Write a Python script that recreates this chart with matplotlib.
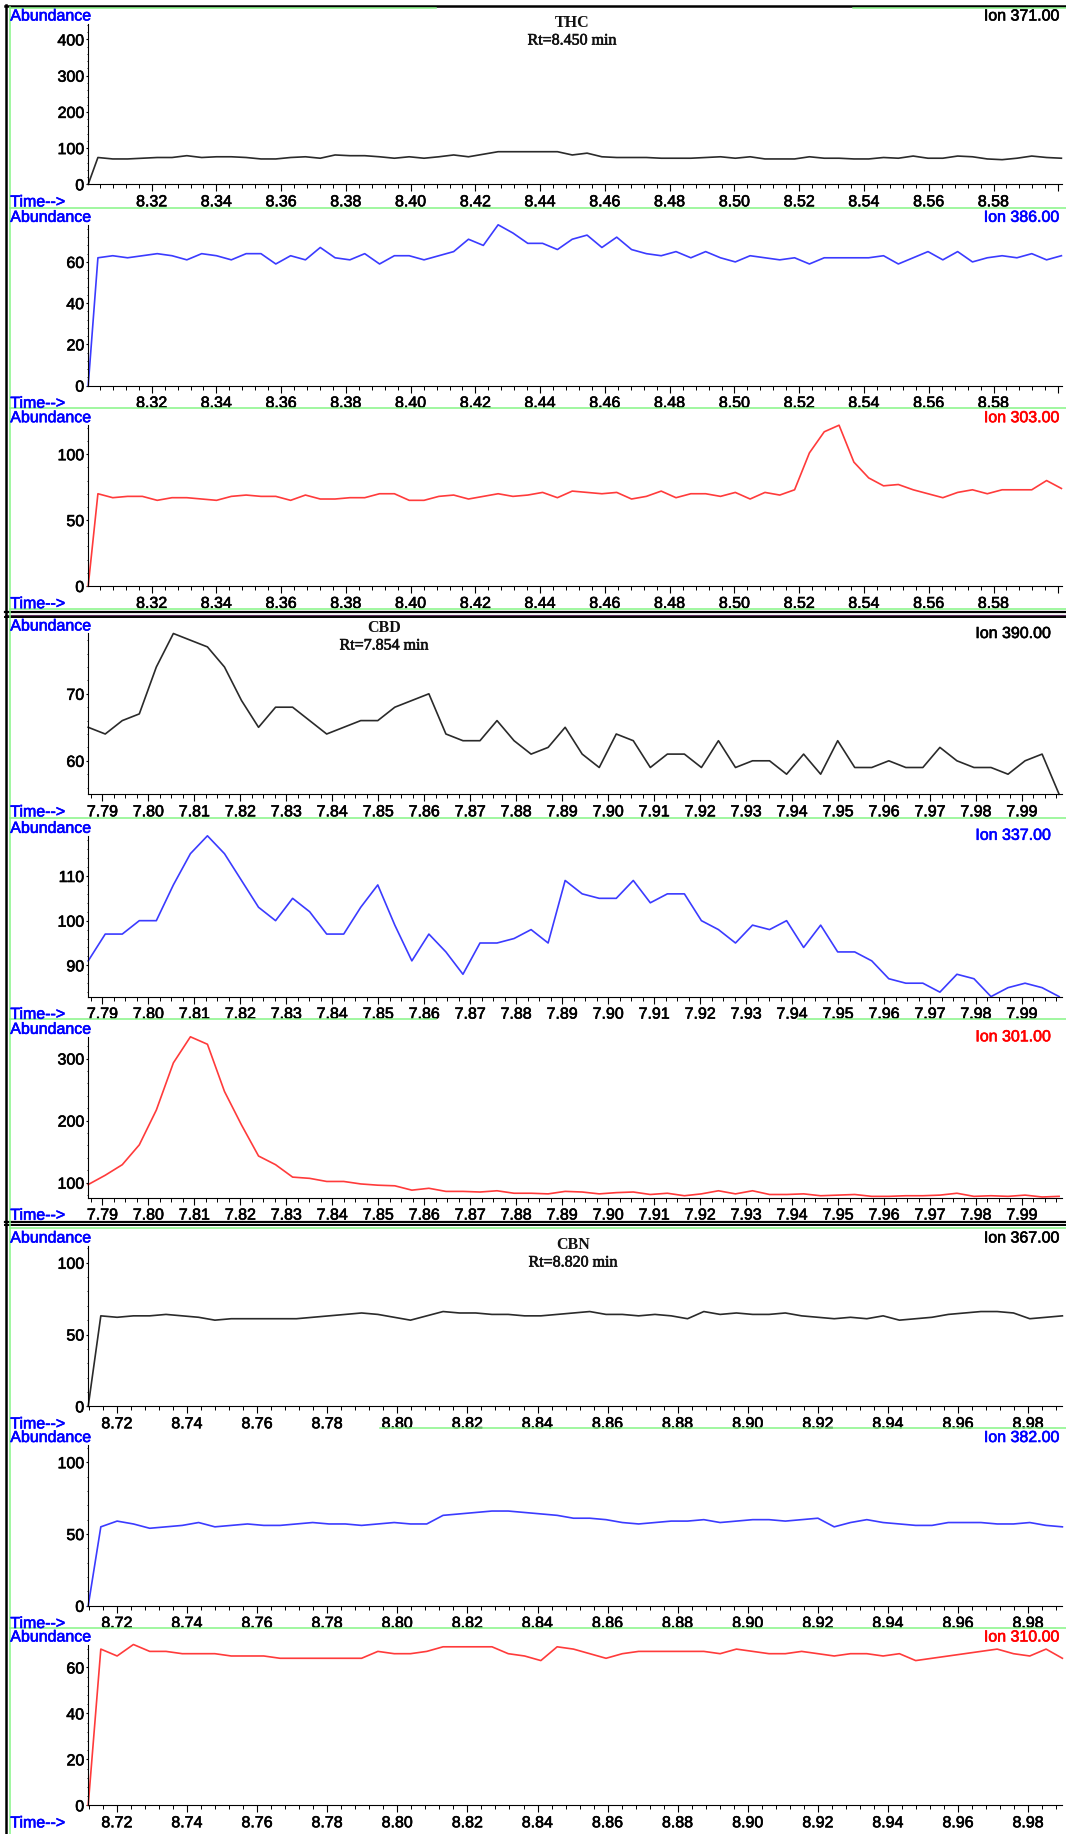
import matplotlib
matplotlib.use("Agg")
import matplotlib.pyplot as plt
import matplotlib.patheffects as pe
from matplotlib.lines import Line2D
from matplotlib.ticker import MultipleLocator, AutoMinorLocator, FuncFormatter
import numpy as np

plt.rcParams["font.family"] = ["Liberation Sans", "DejaVu Sans"]

W, H = 1066, 1834

# ---------------- THC window ----------------
thc_xlim = (8.3004, 8.601)
thc_first_scan = 8.3034
thc_scan_step = 0.004578
ion371 = [0, 74, 70, 70, 72, 74, 74, 79, 74, 76, 76, 74, 70, 70, 74, 76, 72, 81, 79, 79,
          76, 72, 76, 72, 76, 81, 76, 83, 90, 90, 90, 90, 90, 81, 86, 76,
          74, 74, 74, 72, 72, 72, 74, 76, 72, 76, 70, 70, 70, 76, 72, 72, 70, 70, 74, 72,
          78, 72, 72, 78, 76, 70, 68, 72, 78, 74, 72]
ion386 = [0, 62, 63, 62, 63, 64, 63, 61, 64, 63, 61, 64, 64, 59, 63, 61, 67, 62, 61, 64,
          59, 63, 63, 61, 63, 65, 71, 68, 78, 74, 69,
          69, 66, 71, 73, 67, 72, 66, 64, 63, 65, 62, 65, 62, 60, 63, 62, 61, 62, 59, 62,
          62, 62, 62, 63, 59, 62, 65, 61, 65, 60, 62, 63, 62, 64, 61, 63]
ion303 = [0, 70, 67, 68, 68, 65, 67, 67, 66, 65, 68, 69, 68, 68, 65, 69, 66, 66, 67, 67,
          70, 70, 65, 65, 68, 69, 66, 68, 70, 68, 69,
          71, 67, 72, 71, 70, 71, 66, 68, 72, 67, 70, 70, 68, 71, 66, 71, 69, 73, 101, 117,
          122, 94, 82, 76, 77, 73, 70, 67, 71, 73, 70, 73, 73, 73, 80, 74]

# ---------------- CBD window ----------------
cbd_xlim = (7.7869, 7.9986)
cbd_first_scan = 7.7869
cbd_scan_step = 0.003705
ion390 = [65, 64, 66, 67, 74, 79, 78, 77, 74, 69, 65, 68, 68, 66, 64, 65, 66, 66, 68, 69,
          70, 64, 63, 63, 66, 63, 61, 62, 65, 61, 59, 64, 63, 59, 61, 61, 59, 63, 59, 60,
          60, 58, 61, 58, 63, 59, 59, 60, 59, 59, 62, 60, 59, 59, 58, 60, 61, 55]
ion337 = [91, 97, 97, 100, 100, 108, 115, 119, 115, 109, 103, 100, 105, 102, 97, 97, 103,
          108, 99, 91, 97, 93, 88, 95, 95, 96, 98, 95, 109, 106, 105, 105, 109, 104, 106,
          106, 100, 98, 95, 99, 98, 100, 94, 99, 93, 93, 91, 87, 86, 86, 84, 88, 87, 83,
          85, 86, 85, 83]
ion301 = [97, 112, 129, 161, 217, 293, 335, 323, 247, 193, 143, 129, 109, 107, 102, 102,
          98, 96, 95, 88, 91, 86, 86, 85, 87, 83, 83, 82, 86, 85, 82, 84, 85, 81, 83, 79,
          82, 87, 82, 87, 81, 81, 82, 79, 80, 81, 78, 78, 79, 79, 80, 83, 78, 79, 78, 80,
          77, 78]

# ---------------- CBN window ----------------
cbn_xlim = (8.7118, 8.9895)
cbn_first_scan = 8.7154
cbn_scan_step = 0.00465
ion367 = [0, 63, 62, 63, 63, 64, 63, 62, 60, 61, 61, 61, 61, 61, 62, 63, 64, 65, 64, 62, 60,
          63, 66, 65, 65, 64, 64, 63, 63, 64, 65, 66, 64, 64, 63, 64, 63, 61, 66, 64, 65,
          64, 64, 65, 63, 62, 61, 62, 61, 63, 60, 61, 62, 64, 65, 66, 66, 65, 61, 62, 63]
ion382 = [0, 55, 59, 57, 54, 55, 56, 58, 55, 56, 57, 56, 56, 57, 58, 57, 57, 56, 57, 58, 57,
          57, 63, 64, 65, 66, 66, 65, 64, 63, 61, 61, 60, 58, 57, 58, 59, 59, 60, 58, 59,
          60, 60, 59, 60, 61, 55, 58, 60, 58, 57, 56, 56, 58, 58, 58, 57, 57, 58, 56, 55]
ion310 = [0, 68, 65, 70, 67, 67, 66, 66, 66, 65, 65, 65, 64, 64, 64, 64, 64, 64, 67, 66,
          66, 67, 69, 69, 69, 69, 66, 65, 63, 69, 68, 66, 64, 66, 67, 67, 67, 67, 67, 66,
          68, 67, 66, 66, 67, 66, 65, 66, 66, 65, 66, 63, 64, 65, 66, 67, 68, 66, 65, 68, 64]

BLACK, BLUE, RED = "#2a2a2a", "#3b3bff", "#ff3b3b"
TXT_BLUE, TXT_RED = "#0000ff", "#ff0000"
GREEN = "#86f586"
FS = 11.5

fig = plt.figure(figsize=(W / 100, H / 100), dpi=100)

X0, X1 = 88.2, 1061.5      # plot area in pixels


def heavy(color):
    # slightly thicker glyphs, like the instrument printout
    return [pe.withStroke(linewidth=0.45, foreground=color)]


def hline(y, x0, x1, color, lw):
    fig.add_artist(Line2D([x0 / W, x1 / W], [1 - y / H, 1 - y / H],
                          transform=fig.transFigure, color=color, lw=lw))


def vline(x, y0, y1, color, lw):
    fig.add_artist(Line2D([x / W, x / W], [1 - y0 / H, 1 - y1 / H],
                          transform=fig.transFigure, color=color, lw=lw))


def scan_times(first, step, n, xlim):
    # first point of a window sits on the window start
    t = first + step * np.arange(n - 1)
    return np.concatenate([[xlim[0]], t])


def panel(A, t, vals, xlim, ylim, ystep, xstep, xminor, color, ion, ion_color,
          ion_x=1059.5, ion_dy=0):
    top, bot = A + 8.5, A + 169.3
    ax = fig.add_axes([X0 / W, 1 - bot / H, (X1 - X0) / W, (bot - top) / H])
    ax.plot(t, vals, color=color, lw=1.2, clip_on=False)
    ax.set_xlim(*xlim)
    ax.set_ylim(*ylim)
    for s in ("top", "right"):
        ax.spines[s].set_visible(False)
    for s in ("left", "bottom"):
        ax.spines[s].set_linewidth(0.8)
        ax.spines[s].set_color("black")
    ax.xaxis.set_major_locator(MultipleLocator(xstep))
    ax.xaxis.set_minor_locator(AutoMinorLocator(xminor))
    span = xlim[1] - xlim[0]

    def fmt(v, p):
        if xlim[1] - v < 0.02 * span or v - xlim[0] < 0.01 * span:
            return ""
        return f"{v:.2f}"

    ax.xaxis.set_major_formatter(FuncFormatter(fmt))
    ax.yaxis.set_major_locator(MultipleLocator(ystep))
    ax.yaxis.set_minor_locator(AutoMinorLocator(5))
    ax.tick_params(axis="x", which="major", direction="out", length=5.2, width=0.8,
                   pad=2.0, labelsize=FS)
    ax.tick_params(axis="x", which="minor", direction="out", length=2.9, width=0.7)
    ax.tick_params(axis="y", which="major", direction="out", length=1.6, width=0.8,
                   pad=1.3, labelsize=FS)
    ax.tick_params(axis="y", which="minor", direction="out", length=1.0, width=0.6)
    for lab in ax.get_xticklabels() + ax.get_yticklabels():
        lab.set_path_effects(heavy("black"))
    ax.set_facecolor("none")

    fig.text(10.3 / W, 1 - (A + 5.5) / H, "Abundance", color=TXT_BLUE, fontsize=FS,
             ha="left", va="baseline", path_effects=heavy(TXT_BLUE))
    fig.text(10.3 / W, 1 - (A + 191.5) / H, "Time-->", color=TXT_BLUE, fontsize=FS,
             ha="left", va="baseline", path_effects=heavy(TXT_BLUE))
    fig.text(ion_x / W, 1 - (A + 5.5 + ion_dy) / H, ion, color=ion_color, fontsize=FS,
             ha="right", va="baseline", path_effects=heavy(ion_color))
    return ax


def compound(x, A, name, rt):
    fig.text(x / W, 1 - (A + 12) / H, name, family="Liberation Serif", fontsize=11.5,
             ha="center", va="baseline", color="#111111", weight="bold")
    fig.text(x / W, 1 - (A + 29.5) / H, rt, family="Liberation Serif", fontsize=11.5,
             ha="center", va="baseline", color="#111111",
             path_effects=heavy("#111111"))


# ---- THC group ----
thc_t = scan_times(thc_first_scan, thc_scan_step, len(ion371), thc_xlim)
panel(15, thc_t, ion371, thc_xlim, (0, 444), 100, 0.02, 5, BLACK, "Ion 371.00", "black")
panel(216.3, thc_t, ion386, thc_xlim, (0, 78), 20, 0.02, 5, BLUE, "Ion 386.00", TXT_BLUE)
panel(416.7, thc_t, ion303, thc_xlim, (0, 122), 50, 0.02, 5, RED, "Ion 303.00", TXT_RED)
compound(572, 15, "THC", "Rt=8.450 min")

# ---- CBD group ----
cbd_t = cbd_first_scan + cbd_scan_step * np.arange(len(ion390))
panel(625, cbd_t, ion390, cbd_xlim, (55, 79), 10, 0.01, 4, BLACK, "Ion 390.00", "black",
      ion_x=1051, ion_dy=7.5)
panel(827.3, cbd_t, ion337, cbd_xlim, (83, 119), 10, 0.01, 4, BLUE, "Ion 337.00", TXT_BLUE,
      ion_x=1051, ion_dy=7)
panel(1028.3, cbd_t, ion301, cbd_xlim, (76, 335), 100, 0.01, 4, RED, "Ion 301.00", TXT_RED,
      ion_x=1051, ion_dy=7.5)
compound(384, 620, "CBD", "Rt=7.854 min")

# ---- CBN group ----
cbn_t = scan_times(cbn_first_scan, cbn_scan_step, len(ion367), cbn_xlim)
panel(1237, cbn_t, ion367, cbn_xlim, (0, 112), 50, 0.02, 5, BLACK, "Ion 367.00", "black")
panel(1436.5, cbn_t, ion382, cbn_xlim, (0, 112), 50, 0.02, 5, BLUE, "Ion 382.00", TXT_BLUE)
panel(1636, cbn_t, ion310, cbn_xlim, (0, 70), 20, 0.02, 5, RED, "Ion 310.00", TXT_RED)
compound(573, 1237, "CBN", "Rt=8.820 min")

# ---- frame and separators ----
G = 1.1
hline(6.2, 5, W, "black", 1.8)
hline(7.6, 10.3, 436, GREEN, G)
hline(7.6, 853, W, GREEN, G)
hline(208, 10.3, W, GREEN, G)
hline(408, 10.3, W, GREEN, G)
hline(609.3, 10.3, W, GREEN, G)
hline(612.3, 5, W, "black", 1.6)
hline(614.6, 5, W, "#5a2a5a", 0.8)
hline(617.0, 5, W, "black", 1.4)
hline(818.3, 10.3, W, GREEN, G)
hline(1019.5, 10.3, 436, GREEN, G)
hline(1019.5, 798, W, GREEN, G)
hline(1221.8, 5, W, "black", 1.6)
hline(1225.3, 5, W, "black", 1.4)
hline(1228.3, 10.3, W, GREEN, G)
hline(1428, 380, W, GREEN, G)
hline(1628, 10.3, W, GREEN, G)
vline(6.2, 5, H, "black", 1.8)
vline(10.3, 7, H, GREEN, G)

fig.savefig("out.png", dpi=100, facecolor="white")
